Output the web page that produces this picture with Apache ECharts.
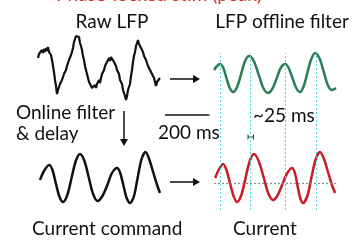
<!DOCTYPE html>
<html>
<head>
<meta charset="utf-8">
<script src="https://cdn.jsdelivr.net/npm/echarts@6/dist/echarts.min.js"></script>
<style>
  html, body { margin: 0; padding: 0; background: #fff; }
  #main { width: 353px; height: 243px; }
</style>
</head>
<body>
<div id="main"></div>
<script>
// sampling step of the raw trace (ms per sample)
var stepMs = 4.5;

// raw LFP, one sample per step (a.u.)
var rawLfp = [10,14,16,12,18,15,19,16,20,17,
  21,16,18,13,8,2,-4,-12,-18,-26,
  -22,-20,-16,-18,-12,-10,-6,-8,-2,2,
  1,8,6,13,16,20,26,28,32,34,
  30,31,25,22,18,12,8,2,-2,-6,
  -10,-14,-12,-16,-20,-18,-22,-17,-20,-16,
  -18,-12,-15,-10,-6,-8,-2,2,0,6,
  4,10,7,11,9,12,6,8,2,-2,
  0,-6,-12,-10,-16,-22,-20,-28,-32,-28,
  -22,-24,-16,-8,-2,6,12,16,22,24,
  28,24,26,20,22,16,12,14,8,6,
  2,4,-2,0,-6,-4,-10,-14,-18,-14,
  -12,-16,-10];

// offline filtered LFP (ms, a.u.)
var filtT = [0,14,27,42,56,71,86,104,122,140,158,179,200,222,243,262,281,300,320,336,353,370,387,404,421,438,455,474,493,512,531,542,549];
var filtV = [6,10,12,8,-2,-12,-16,-11,2,15,20,15,2,-12,-17,-13,-3,8,12,8,-2,-12,-16,-10,4,17,23,18,5,-9,-14,-13,-12];

// current command (ms, a.u.)
var cmdT = [9,27,50,65,81,97,113,132,151,170,189,209,228,248,268,290,312,333,356,370,385,399,414,432,449,466,484,500,518,536,549];
var cmdV = [0,9,15,10,-4,-17,-22,-15,2,19,26,19,3,-14,-21,-16,-5,7,12,7,-6,-18,-23,-16,3,21,28,21,8,-5,-13];

// measured current (ms, a.u.)
var curT = [5,23,41,56,72,88,104,123,142,161,180,201,223,244,266,287,308,330,351,364,376,388,401,420,439,458,477,495,513,531,545];
var curV = [2,11,16,10,-3,-16,-22,-15,2,19,26,19,3,-13,-20,-15,-4,7,12,7,-6,-18,-23,-16,3,21,28,21,8,-5,-13];

// peaks of the filtered LFP (ms)
var peakTimes = [27, 162, 320, 459];
var baseline = -3;
var scaleBarMs = 200;
var delayMark = [153, 178];

var FONT = '19px Lato';

function pairs(t, v) {
    return t.map(function (x, i) { return [x, v[i]]; });
}

var myChart = echarts.init(document.getElementById('main'));

var grids = [
    { left: 38, top: 33, width: 122, height: 70 },   // raw
    { left: 214, top: 41, width: 122, height: 70 },  // filtered
    { left: 38, top: 145, width: 122, height: 70 },  // command
    { left: 214, top: 145, width: 122, height: 70 }, // current
    { left: 214, top: 53, width: 122, height: 157 }, // peak guides
    { left: 165, top: 110, width: 122, height: 10 }, // scale bar
    { left: 214, top: 132, width: 122, height: 10 }  // delay marker
];

var xAxes = grids.map(function (g, i) {
    return { gridIndex: i, type: 'value', min: 0, max: 549, show: false };
});
var yAxes = grids.map(function (g, i) {
    if (i < 4) return { gridIndex: i, type: 'value', min: -35, max: 35, show: false };
    return { gridIndex: i, type: 'value', min: 0, max: 1, show: false };
});

function label(text, x, y, opts) {
    return {
        type: 'text', x: x, y: y,
        style: Object.assign({ text: text, fill: '#111', font: FONT, textVerticalAlign: 'middle' }, opts || {})
    };
}

var option = {
    animation: false,
    grid: grids,
    xAxis: xAxes,
    yAxis: yAxes,
    series: [
        {
            type: 'line', xAxisIndex: 4, yAxisIndex: 4, data: [],
            markLine: {
                silent: true, symbol: 'none', label: { show: false },
                lineStyle: { color: '#56d3e3', type: [2, 2], width: 1 },
                data: peakTimes.map(function (t) { return { xAxis: t }; })
            }
        },
        {
            type: 'line', xAxisIndex: 0, yAxisIndex: 0, showSymbol: false,
            data: rawLfp.map(function (v, i) { return [i * stepMs, v]; }),
            lineStyle: { color: '#111', width: 2.2 }
        },
        {
            type: 'line', xAxisIndex: 1, yAxisIndex: 1, showSymbol: false, smooth: 0.3,
            data: pairs(filtT, filtV),
            lineStyle: { color: '#2a7d55', width: 2.5 }
        },
        {
            type: 'line', xAxisIndex: 2, yAxisIndex: 2, showSymbol: false, smooth: 0.3,
            data: pairs(cmdT, cmdV),
            lineStyle: { color: '#111', width: 2.5 }
        },
        {
            type: 'line', xAxisIndex: 3, yAxisIndex: 3, showSymbol: false, smooth: 0.3,
            data: pairs(curT, curV),
            lineStyle: { color: '#c41f26', width: 2.5 },
            markLine: {
                silent: true, symbol: 'none', label: { show: false },
                lineStyle: { color: '#8a8a8a', type: [2, 2], width: 1.2 },
                data: [{ yAxis: baseline }]
            }
        },
        {
            type: 'line', xAxisIndex: 5, yAxisIndex: 5, symbol: 'none',
            data: [[0, 0.5], [scaleBarMs, 0.5]],
            lineStyle: { color: '#111', width: 1.5 }
        },
        {
            type: 'line', xAxisIndex: 6, yAxisIndex: 6, symbol: 'rect', symbolSize: [1, 5],
            itemStyle: { color: '#333' },
            data: [[delayMark[0], 0.5], [delayMark[1], 0.5]],
            lineStyle: { color: '#333', width: 1 }
        }
    ],
    graphic: [
        label('Phase-locked stim (peak)', 262, 4, { fill: '#dc2b2b', textAlign: 'right', textVerticalAlign: 'bottom' }),
        label('Raw LFP', 112, 22, { textAlign: 'center' }),
        label('LFP offline filter', 282, 22, { textAlign: 'center' }),
        label('Online filter', 16, 113),
        label('& delay', 16, 134),
        label('200 ms', 158, 133),
        label('~25 ms', 253, 116),
        label('Current command', 32, 229),
        label('Current', 233, 229),
        // arrows
        { type: 'line', shape: { x1: 170, y1: 79, x2: 195, y2: 79 }, style: { stroke: '#111', lineWidth: 1.5 } },
        { type: 'polygon', shape: { points: [[193, 75], [200, 79], [193, 83]] }, style: { fill: '#111' } },
        { type: 'line', shape: { x1: 170, y1: 182, x2: 195, y2: 182 }, style: { stroke: '#111', lineWidth: 1.5 } },
        { type: 'polygon', shape: { points: [[193, 178], [200, 182], [193, 186]] }, style: { fill: '#111' } },
        { type: 'line', shape: { x1: 124, y1: 111, x2: 124, y2: 140 }, style: { stroke: '#111', lineWidth: 1.5 } },
        { type: 'polygon', shape: { points: [[120, 139], [124, 146], [128, 139]] }, style: { fill: '#111' } }
    ]
};

myChart.setOption(option);
window.addEventListener('resize', function () { myChart.resize(); });
</script>
</body>
</html>
